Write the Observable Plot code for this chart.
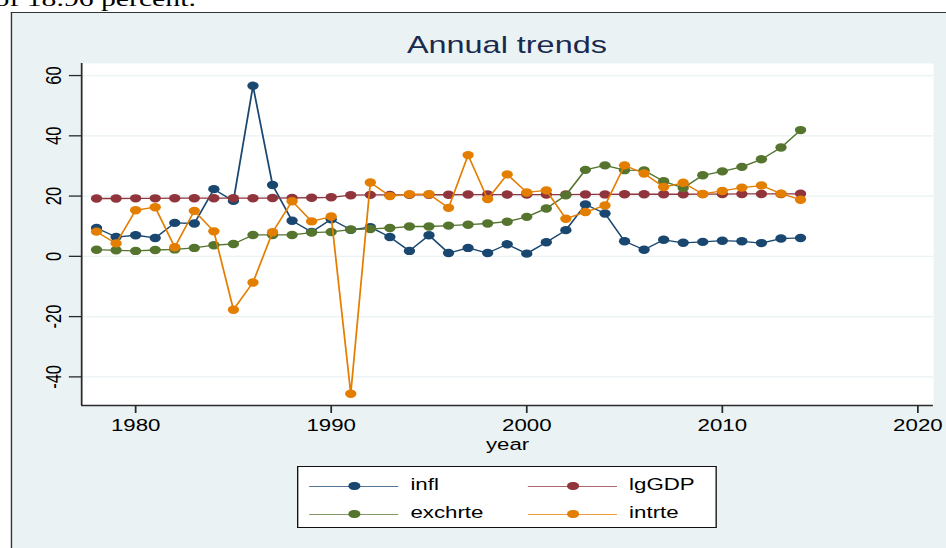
<!DOCTYPE html>
<html>
<head>
<meta charset="utf-8">
<script src="https://cdn.jsdelivr.net/npm/d3@7"></script>
<script src="https://cdn.jsdelivr.net/npm/@observablehq/plot@0.6"></script>
<style>
  html, body { margin: 0; padding: 0; background: #ffffff; overflow: hidden; }
  body { width: 946px; height: 548px; position: relative; }
  #wrap { position: absolute; left: 0; top: 0; width: 701px; height: 548px;
          transform: scaleX(1.35); transform-origin: 0 0; }
  #pagetext { position: absolute; left: -4px; top: -12.5px; font: 22px/22px "Liberation Serif", "Times New Roman", serif;
              color: #000; white-space: nowrap; }
  #bg { position: absolute; left: 7.5px; top: 11.5px; right: -20px; bottom: -20px; background: #eaf2f3;
        border-left: 1.6px solid #333; border-top: 1.6px solid #333; }
  #title { position: absolute; left: 0; width: 751px; top: 30px; text-align: center;
           font: 24px/30px "Liberation Sans", Arial, sans-serif; color: #1a2a4f; }
  #chart { position: absolute; left: 0; top: 0; }
  #legend { position: absolute; left: 220px; top: 466px; width: 309px; height: 60px; background: #fff;
            border: 1.4px solid #111; font: 16.5px "Liberation Sans", Arial, sans-serif; color: #000; }
  .li { position: absolute; height: 20px; }
  .li .ln { position: absolute; top: 9.5px; height: 1.2px; width: 66px; left: 0; }
  .li .mk { position: absolute; top: 5.7px; left: 29px; width: 8.6px; height: 8.6px; border-radius: 50%; }
  .li .tx { position: absolute; left: 75px; top: -1px; white-space: nowrap; }
</style>
</head>
<body>
<div id="wrap">
  <div id="pagetext">of 18.96 percent.</div>
  <div id="bg"></div>
  <div id="title">Annual trends</div>
  <div id="chart"></div>
  <div id="legend"></div>
</div>
<script>
const years = [1978,1979,1980,1981,1982,1983,1984,1985,1986,1987,1988,1989,1990,1991,1992,1993,1994,1995,1996,1997,1998,1999,2000,2001,2002,2003,2004,2005,2006,2007,2008,2009,2010,2011,2012,2013,2014];
const infl = [9.4,6.4,7.0,6.1,11.1,10.9,22.3,18.4,56.6,23.7,11.8,8.1,12.3,8.8,9.7,6.4,1.8,7.0,1.1,2.8,1.1,4.0,0.9,4.7,8.7,17.2,14.2,5.0,2.2,5.5,4.5,4.8,5.2,5.0,4.4,5.9,6.1];
const lgGDP = [19.2,19.2,19.25,19.25,19.3,19.3,19.3,19.3,19.3,19.35,19.4,19.45,19.6,20.3,20.4,20.4,20.4,20.45,20.45,20.5,20.5,20.5,20.5,20.5,20.5,20.55,20.55,20.6,20.6,20.6,20.6,20.65,20.65,20.7,20.7,20.7,20.75];
const exchrte = [2.2,2.0,1.8,2.1,2.3,2.8,3.7,4.1,7.1,7.1,7.1,7.9,8.1,8.9,9.1,9.4,9.9,9.9,10.2,10.5,10.9,11.5,13.1,15.9,20.3,28.7,30.2,28.6,28.5,24.9,22.7,26.9,28.2,29.7,32.2,36.1,41.9];
const intrte = [8.2,4.3,15.3,16.3,3.0,15.1,8.3,-17.7,-8.7,8.0,18.3,11.6,13.2,-45.6,24.5,20.0,20.6,20.6,16.1,33.6,19.0,27.2,21.2,21.9,12.5,14.7,16.9,30.2,27.5,23.0,24.4,20.7,21.7,22.8,23.5,20.8,18.8];

const seriesNames = ["infl", "lgGDP", "exchrte", "intrte"];
const seriesValues = [infl, lgGDP, exchrte, intrte];
const seriesColors = ["#1a476f", "#90353b", "#55752f", "#e37e00"];
const xTicks = [1980, 1990, 2000, 2010, 2020];
const yTicks = [-40, -20, 0, 20, 40, 60];
const xDomain = [1977.24, 2020.8];
const yDomain = [-49.5, 64];

const marks = [
  Plot.frame({fill: "white", stroke: null}),
  Plot.gridY(yTicks, {stroke: "#eaf2f3", strokeOpacity: 1, strokeWidth: 1.2})
];
seriesNames.forEach((name, i) => {
  const rows = years.map((yr, j) => ({year: yr, value: seriesValues[i][j], series: name}));
  marks.push(Plot.line(rows, {x: "year", y: "value", stroke: seriesColors[i], strokeWidth: 1.3}));
  marks.push(Plot.dot(rows, {x: "year", y: "value", fill: seriesColors[i], stroke: null, r: 4.2}));
});
marks.push(
  Plot.ruleX([xDomain[0]], {stroke: "#2a2a2a", strokeWidth: 1.3}),
  Plot.ruleY([yDomain[0]], {stroke: "#2a2a2a", strokeWidth: 1.3}),
  Plot.axisX({ticks: xTicks, tickSize: 8, tickPadding: 6, tickFormat: d => String(d),
              label: "year", labelAnchor: "center", labelArrow: "none", labelOffset: 44,
              stroke: "#2a2a2a", strokeWidth: 1.3}),
  Plot.axisY({ticks: yTicks, tickSize: 9, tickPadding: 6, tickRotate: -90, tickFormat: d => String(d),
              label: null, stroke: "#2a2a2a", strokeWidth: 1.3})
);

const chart = Plot.plot({
  width: 701,
  height: 470,
  marginLeft: 60,
  marginRight: 10,
  marginTop: 63,
  marginBottom: 65,
  x: {domain: xDomain},
  y: {domain: yDomain},
  style: {background: "transparent", fontFamily: "'Liberation Sans', Arial, sans-serif", fontSize: "16.5px", color: "#000", overflow: "visible"},
  marks
});
document.getElementById("chart").appendChild(chart);

// legend
const legend = document.getElementById("legend");
const pos = [[8, 9], [170, 9], [8, 37], [170, 37]];
const order = [0, 1, 2, 3];
order.forEach((i, k) => {
  const el = document.createElement("div");
  el.className = "li";
  el.style.left = pos[k][0] + "px";
  el.style.top = pos[k][1] + "px";
  el.innerHTML = `<div class="ln" style="background:${seriesColors[i]};opacity:0.75"></div>` +
                 `<div class="mk" style="background:${seriesColors[i]}"></div>` +
                 `<div class="tx">${seriesNames[i]}</div>`;
  legend.appendChild(el);
});
</script>
</body>
</html>
